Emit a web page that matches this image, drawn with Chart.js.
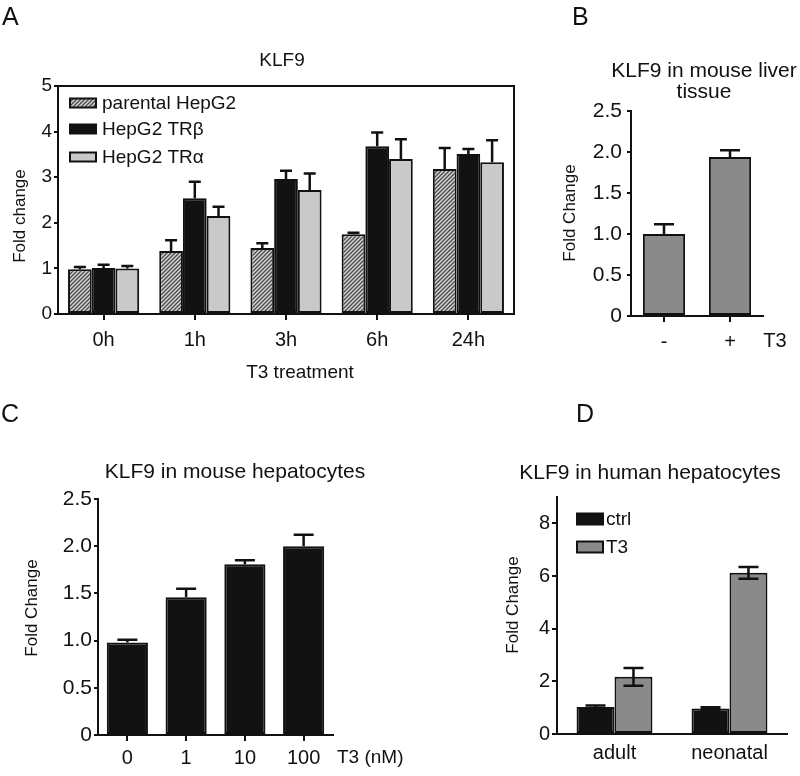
<!DOCTYPE html>
<html>
<head>
<meta charset="utf-8">
<script src="https://cdn.jsdelivr.net/npm/chart.js@4.4.1/dist/chart.umd.min.js"></script>
<style>
  body{margin:0;background:#fff;}
  #wrap{position:relative;width:800px;height:776px;background:#fff;overflow:hidden;}
  canvas{position:absolute;}
</style>
</head>
<body>
<div id="wrap">
  <canvas id="panelA" width="520" height="390" style="left:0;top:0"></canvas>
  <canvas id="panelB" width="280" height="390" style="left:520px;top:0"></canvas>
  <canvas id="panelC" width="500" height="376" style="left:0;top:400px"></canvas>
  <canvas id="panelD" width="300" height="376" style="left:500px;top:400px"></canvas>
</div>
<script>
// A: KLF9 in HepG2 lines over time
const timeLabels = ['0h','1h','3h','6h','24h'];
const parental    = [0.98, 1.38, 1.45, 1.75, 3.18];
const parentalErr = [0.05, 0.24, 0.10, 0.03, 0.46];
const trBeta      = [1.01, 2.54, 2.96, 3.68, 3.51];
const trBetaErr   = [0.07, 0.36, 0.18, 0.30, 0.11];
const trAlpha     = [1.00, 2.15, 2.72, 3.40, 3.33];
const trAlphaErr  = [0.05, 0.20, 0.36, 0.43, 0.48];
const foldTicksA  = [0, 1, 2, 3, 4, 5];

// B: mouse liver tissue
const liverLabels = ['-', '+'];
const liverFold   = [1.00, 1.94];
const liverErr    = [0.12, 0.08];

// C: mouse hepatocytes, dose
const doseLabels = ['0', '1', '10', '100'];
const doseFold   = [0.98, 1.46, 1.81, 2.00];
const doseErr    = [0.03, 0.09, 0.04, 0.12];

// D: human hepatocytes
const ageLabels = ['adult', 'neonatal'];
const ctrlFold  = [1.03, 0.97];
const ctrlErr   = [0.05, 0.05];
const t3Fold    = [2.17, 6.12];
const t3Err     = [0.34, 0.22];

const FONT = '"Liberation Sans", Arial, Helvetica, sans-serif';
const INK = '#111';
Chart.defaults.font.family = FONT;
Chart.defaults.color = INK;
Chart.defaults.animation = false;

function hatch(){
  const c = document.createElement('canvas'); c.width = 4; c.height = 4;
  const g = c.getContext('2d');
  g.fillStyle = '#d4d4d4'; g.fillRect(0,0,4,4);
  g.strokeStyle = '#4a4a4a'; g.lineWidth = 1.3;
  g.beginPath();
  g.moveTo(0,4); g.lineTo(4,0);
  g.moveTo(-1,1); g.lineTo(1,-1);
  g.moveTo(3,5); g.lineTo(5,3);
  g.stroke();
  return g.createPattern(c, 'repeat');
}

// error bars drawn from the y scale
const errorBars = {
  id: 'errorBars',
  afterDatasetsDraw(chart, args, opts){
    const ctx = chart.ctx, y = chart.scales.y;
    ctx.save();
    ctx.strokeStyle = INK; ctx.lineWidth = opts.width || 2.5;
    chart.data.datasets.forEach((ds, i)=>{
      const errs = opts.errors[i]; if(!errs) return;
      chart.getDatasetMeta(i).data.forEach((bar, j)=>{
        const v = ds.data[j], e = errs[j], hw = opts.cap/2;
        const top = y.getPixelForValue(v + e);
        const low = opts.both ? y.getPixelForValue(v - e) : y.getPixelForValue(v);
        ctx.beginPath();
        ctx.moveTo(bar.x, low); ctx.lineTo(bar.x, top);
        ctx.moveTo(bar.x-hw, top); ctx.lineTo(bar.x+hw, top);
        if(opts.both){ ctx.moveTo(bar.x-hw, low); ctx.lineTo(bar.x+hw, low); }
        ctx.stroke();
      });
    });
    ctx.restore();
  }
};

const frame = {
  id: 'frame',
  afterDraw(chart, args, opts){
    if(!opts.on) return;
    const {ctx, chartArea:a} = chart;
    ctx.save(); ctx.strokeStyle = INK; ctx.lineWidth = 2;
    ctx.beginPath();
    ctx.moveTo(a.left, a.top); ctx.lineTo(a.right, a.top); ctx.lineTo(a.right, a.bottom);
    ctx.stroke(); ctx.restore();
  }
};

const boxLegend = {
  id: 'boxLegend',
  afterDraw(chart, args, opts){
    if(!opts.rows) return;
    const ctx = chart.ctx;
    ctx.save();
    chart.data.datasets.forEach((ds, i)=>{
      const r = opts.rows[i];
      ctx.fillStyle = ds.backgroundColor;
      ctx.fillRect(opts.x, r - opts.h/2, opts.w, opts.h);
      ctx.strokeStyle = INK; ctx.lineWidth = 2;
      ctx.strokeRect(opts.x, r - opts.h/2, opts.w, opts.h);
      ctx.fillStyle = INK; ctx.font = opts.size + 'px ' + FONT;
      ctx.textAlign = 'left'; ctx.textBaseline = 'middle';
      ctx.fillText(ds.label, opts.textX, r + 1);
    });
    ctx.restore();
  }
};

const texts = {
  id: 'texts',
  afterDraw(chart, args, opts){
    const ctx = chart.ctx;
    (opts.items || []).forEach(it=>{
      ctx.save();
      ctx.fillStyle = INK; ctx.font = it.size + 'px ' + FONT;
      ctx.textAlign = it.align || 'center'; ctx.textBaseline = 'alphabetic';
      ctx.translate(it.x, it.y);
      if(it.rot) ctx.rotate(-Math.PI/2);
      ctx.fillText(it.t, 0, 0);
      ctx.restore();
    });
  }
};

function yAxis(o){
  return {
    min: 0, max: o.max, afterFit: s => { s.width = o.w; },
    border: {color: INK, width: 2},
    grid: {drawOnChartArea: false, color: INK, lineWidth: 2, tickLength: o.tl},
    ticks: {stepSize: o.step, padding: o.pad, includeBounds: false, font: {size: o.size}, color: INK,
            callback: o.fmt || (v => v)}
  };
}
function xAxis(o){
  return {
    afterFit: s => { s.height = o.h; },
    border: {color: INK, width: 2},
    grid: o.tl ? {offset: false, drawOnChartArea: false, color: INK, lineWidth: 2, tickLength: o.tl}
               : {display: false, drawTicks: false},
    ticks: {padding: o.pad, font: {size: o.size}, color: INK, maxRotation: 0, autoSkip: false}
  };
}
const bar = (label, data, color, cp) => ({label, data, backgroundColor: color, borderColor: INK,
  borderWidth: 2, borderSkipped: false, barPercentage: 1, categoryPercentage: cp});
const fmt1 = v => v === 0 ? '0' : v.toFixed(1);

new Chart(document.getElementById('panelA'), {
  type: 'bar',
  data: {labels: timeLabels, datasets: [
    bar('parental HepG2', parental, hatch(), 0.78),
    bar('HepG2 TR\u03b2', trBeta, '#121212', 0.78),
    bar('HepG2 TR\u03b1', trAlpha, '#c9c9c9', 0.78)
  ]},
  options: {
    responsive: false, devicePixelRatio: 1,
    layout: {padding: {left: 0, top: 86, right: 6, bottom: 0}},
    scales: {
      x: xAxis({h: 76, tl: 6, pad: 8, size: 20}),
      y: Object.assign(yAxis({max: foldTicksA[foldTicksA.length-1], w: 58, step: 1, tl: 4, pad: 2, size: 19}),
        {afterBuildTicks: s => { s.ticks = foldTicksA.map(v => ({value: v})); }})
    },
    plugins: {
      legend: {display: false}, tooltip: {enabled: false},
      errorBars: {errors: [parentalErr, trBetaErr, trAlphaErr], cap: 12, width: 2.5},
      frame: {on: true},
      boxLegend: {rows: [103, 129, 157], x: 70, w: 26, h: 9, textX: 102, size: 19},
      texts: {items: [
        {t: 'A', x: 2, y: 25, size: 25, align: 'left'},
        {t: 'KLF9', x: 282, y: 66, size: 19},
        {t: 'T3 treatment', x: 300, y: 378, size: 19},
        {t: 'Fold change', x: 25, y: 216, size: 17, rot: true}
      ]}
    }
  },
  plugins: [errorBars, frame, boxLegend, texts]
});

new Chart(document.getElementById('panelB'), {
  type: 'bar',
  data: {labels: liverLabels, datasets: [bar('KLF9', liverFold, '#8a8a8a', 0.64)]},
  options: {
    responsive: false, devicePixelRatio: 1,
    layout: {padding: {left: 0, top: 111, right: 37, bottom: 0}},
    scales: {
      x: xAxis({h: 74, tl: 6, pad: 8, size: 20}),
      y: yAxis({max: 2.5, w: 111, step: 0.5, tl: 4, pad: 5, size: 21, fmt: fmt1})
    },
    plugins: {
      legend: {display: false}, tooltip: {enabled: false},
      errorBars: {errors: [liverErr], cap: 20, width: 2.5},
      texts: {items: [
        {t: 'B', x: 52, y: 25, size: 25, align: 'left'},
        {t: 'KLF9 in mouse liver', x: 184, y: 77, size: 21},
        {t: 'tissue', x: 184, y: 98, size: 21},
        {t: 'T3', x: 255, y: 347, size: 20},
        {t: 'Fold Change', x: 55, y: 213, size: 17, rot: true}
      ]}
    }
  },
  plugins: [errorBars, texts]
});

new Chart(document.getElementById('panelC'), {
  type: 'bar',
  data: {labels: doseLabels, datasets: [bar('KLF9', doseFold, '#121212', 0.7)]},
  options: {
    responsive: false, devicePixelRatio: 1,
    layout: {padding: {left: 0, top: 99, right: 167, bottom: 0}},
    scales: {
      x: xAxis({h: 41, tl: 6, pad: 5, size: 20}),
      y: yAxis({max: 2.5, w: 98, step: 0.5, tl: 4, pad: 2, size: 21, fmt: fmt1})
    },
    plugins: {
      legend: {display: false}, tooltip: {enabled: false},
      errorBars: {errors: [doseErr], cap: 20, width: 2.5},
      texts: {items: [
        {t: 'C', x: 1, y: 22, size: 25, align: 'left'},
        {t: 'KLF9 in mouse hepatocytes', x: 235, y: 78, size: 21},
        {t: 'T3 (nM)', x: 337, y: 363, size: 19, align: 'left'},
        {t: 'Fold Change', x: 37, y: 208, size: 17, rot: true}
      ]}
    }
  },
  plugins: [errorBars, texts]
});

new Chart(document.getElementById('panelD'), {
  type: 'bar',
  data: {labels: ageLabels, datasets: [
    bar('ctrl', ctrlFold, '#121212', 0.66),
    bar('T3', t3Fold, '#8a8a8a', 0.66)
  ]},
  options: {
    responsive: false, devicePixelRatio: 1,
    layout: {padding: {left: 0, top: 97, right: 13, bottom: 0}},
    scales: {
      x: xAxis({h: 42, tl: 0, pad: 7, size: 20}),
      y: yAxis({max: 9, w: 57, step: 2, tl: 5, pad: 2, size: 20})
    },
    plugins: {
      legend: {display: false}, tooltip: {enabled: false},
      errorBars: {errors: [ctrlErr, t3Err], cap: 20, width: 2.5, both: true},
      boxLegend: {rows: [119, 147], x: 77, w: 26, h: 11, textX: 106, size: 19},
      texts: {items: [
        {t: 'D', x: 76, y: 22, size: 25, align: 'left'},
        {t: 'KLF9 in human hepatocytes', x: 150, y: 79, size: 21},
        {t: 'Fold Change', x: 18, y: 205, size: 17, rot: true}
      ]}
    }
  },
  plugins: [errorBars, boxLegend, texts]
});
</script>
</body>
</html>
